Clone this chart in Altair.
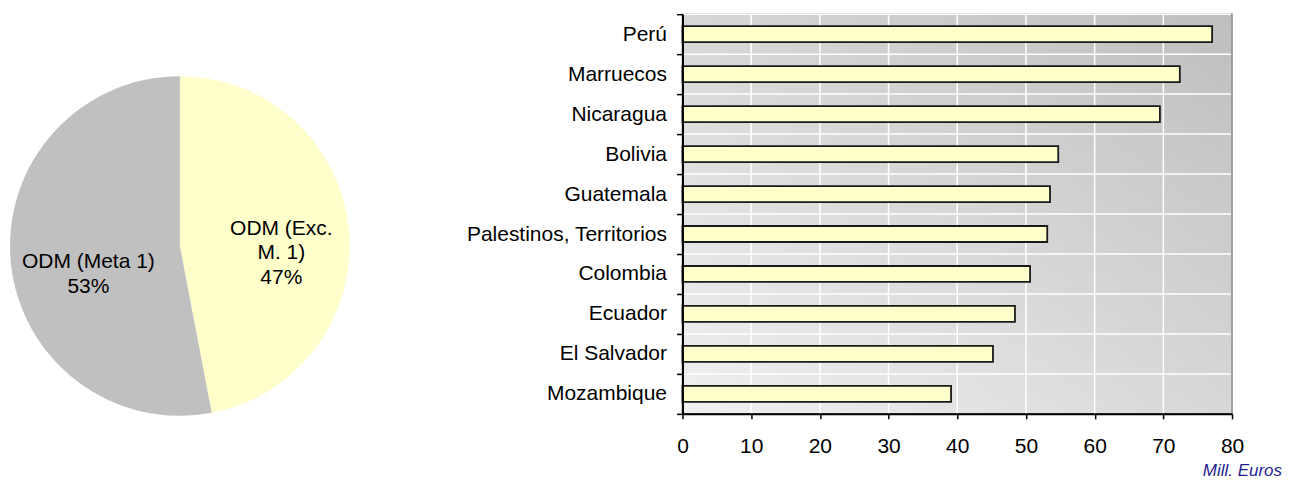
import altair as alt
import pandas as pd

# ---- data ----
pie_categories = ["ODM (Exc. M. 1)", "ODM (Meta 1)"]
pie_labels = ["ODM (Exc.\nM. 1)", "ODM (Meta 1)"]
pie_shares = [47, 53]
pie_colors = ["#FFFFCC", "#C0C0C0"]

countries = ["Perú", "Marruecos", "Nicaragua", "Bolivia", "Guatemala",
             "Palestinos, Territorios", "Colombia", "Ecuador", "El Salvador",
             "Mozambique"]
amounts = [77.1, 72.4, 69.5, 54.7, 53.5, 53.1, 50.6, 48.4, 45.2, 39.1]
x_ticks = [0, 10, 20, 30, 40, 50, 60, 70, 80]
unit_note = ["Mill. Euros"]

FONT = "Liberation Sans, Arial, sans-serif"
FS = 21
W, H = 550, 400

pie_df = pd.DataFrame({
    "cat": pie_categories,
    "share": pie_shares,
    "order": list(range(len(pie_categories))),
    "label": [f"{l}\n{s}%" for l, s in zip(pie_labels, pie_shares)],
})

bar_df = pd.DataFrame({"country": countries, "value": amounts})
tick_df = pd.DataFrame({"tick": x_ticks[1:-1]})

CX, CY, R = 172, 232, 170

pie_base = alt.Chart(pie_df).encode(
    theta=alt.Theta("share:Q", stack=True),
    order=alt.Order("order:Q"),
)

arcs = pie_base.mark_arc(outerRadius=R).encode(
    x=alt.value(CX), y=alt.value(CY),
    color=alt.Color("cat:N", scale=alt.Scale(domain=pie_categories, range=pie_colors),
                    legend=None),
)


def pie_label(cat, dx, dy):
    return pie_base.mark_text(
        radius=100, font=FONT, fontSize=FS, lineBreak="\n", lineHeight=24.5,
        align="center", baseline="middle", dy=dy, dx=dx, color="black"
    ).encode(
        x=alt.value(CX), y=alt.value(CY),
        text="label:N",
        opacity=alt.condition(alt.datum.cat == cat, alt.value(1), alt.value(0)),
    )


pie = alt.layer(
    arcs,
    pie_label(pie_categories[0], 2, -8),
    pie_label(pie_categories[1], 8, 7),
).properties(width=345, height=H)

gradient = alt.LinearGradient(
    gradient="linear",
    x1=0, y1=1, x2=1, y2=0,
    stops=[alt.GradientStop(color="#F0F0F0", offset=0),
           alt.GradientStop(color="#BEBEBE", offset=1)],
)

y_scale = alt.Scale(domain=countries, paddingInner=0, paddingOuter=0)
x_scale = alt.Scale(domain=[0, 80], nice=False)

y_enc = alt.Y("country:N", sort=countries, title=None, scale=y_scale,
              axis=alt.Axis(tickBand="extent", grid=False, zindex=1,
                            domainColor="black", domainWidth=2,
                            tickColor="black", tickSize=6, tickWidth=1.5,
                            labelPadding=10, labelFont=FONT, labelFontSize=FS,
                            labelColor="black", labelLimit=400))
x_enc = alt.X("value:Q", title=None, scale=x_scale,
              axis=alt.Axis(values=x_ticks, grid=False, zindex=1,
                            domainColor="black", domainWidth=2,
                            tickColor="black", tickSize=5, tickWidth=1.5,
                            labelPadding=17, labelFont=FONT, labelFontSize=FS,
                            labelColor="black", labelFlush=False))

background = alt.Chart(pd.DataFrame({"d": [0]})).mark_rect(
    color=gradient, stroke="#8C8C8C", strokeWidth=1.5
).encode(x=alt.value(0), x2=alt.value(W), y=alt.value(0), y2=alt.value(H))

vgrid = alt.Chart(tick_df).mark_rule(color="white", strokeWidth=1.5).encode(
    x=alt.X("tick:Q", scale=x_scale), y=alt.value(0), y2=alt.value(H)
)

hgrid = alt.Chart(bar_df).mark_rule(color="white", strokeWidth=1.5).encode(
    y=alt.Y("country:N", sort=countries, scale=y_scale, bandPosition=0),
    x=alt.value(0), x2=alt.value(W - 1)
)

bars = alt.Chart(bar_df).mark_bar(
    height=16, fill="#FFFFCC", stroke="#1a1a1a", strokeWidth=1.8
).encode(y=y_enc, x=x_enc)

note = alt.Chart(pd.DataFrame({"t": unit_note})).mark_text(
    font=FONT, fontSize=17, fontStyle="italic", color="#1F1F8F",
    align="right", baseline="alphabetic"
).encode(x=alt.value(600), y=alt.value(462), text="t:N")

bar_chart = alt.layer(background, vgrid, hgrid, bars, note).properties(
    width=W, height=H,
)

chart = alt.hconcat(pie, bar_chart, spacing=330, bounds="flush").properties(
    padding={"left": 0, "top": -5, "right": 0, "bottom": 0}
).configure_view(stroke=None)

chart.save("out.html", embed_options={"renderer": "svg", "actions": False})
